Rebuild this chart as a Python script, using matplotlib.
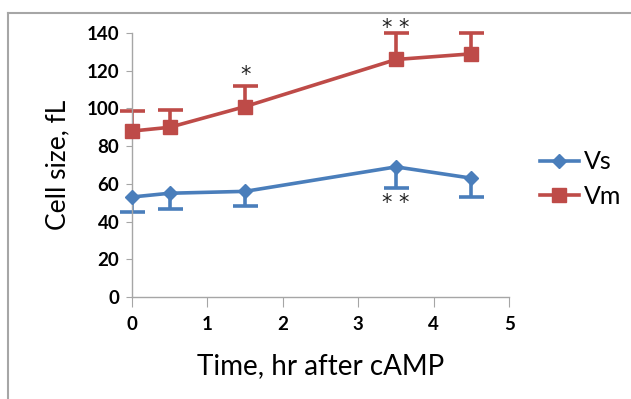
import matplotlib.pyplot as plt
from matplotlib.lines import Line2D

# time points, hr after cAMP
time_hr = [0, 0.5, 1.5, 3.5, 4.5]
vs_mean = [53, 55, 56, 69, 63]
vs_err = [8, 8.5, 8, 11, 10]        # drawn downward only
vm_mean = [88, 90, 101, 126, 129]
vm_err = [10.5, 9, 11, 14, 11]      # drawn upward only

BLUE = '#4A7EBB'
RED = '#BE4B48'
GRAY = '#A6A6A6'
LW = 2.6

plt.rcParams['font.family'] = ['Lato', 'DejaVu Sans']

fig = plt.figure(figsize=(6.31, 3.99), dpi=100)
ax = fig.add_axes([0.209, 0.256, 0.598, 0.661])


def one_sided_err(x, y, err, color, sign):
    ends = [v + sign * e for v, e in zip(y, err)]
    ax.vlines(x, y, ends, color=color, lw=LW, zorder=2)
    ax.plot(x, ends, ls='none', marker='_', ms=18, mew=LW, color=color, zorder=2, clip_on=False)


one_sided_err(time_hr, vs_mean, vs_err, BLUE, -1)
one_sided_err(time_hr, vm_mean, vm_err, RED, +1)
ax.plot(time_hr, vs_mean, color=BLUE, lw=LW, marker='D', ms=7, zorder=3, clip_on=False)
ax.plot(time_hr, vm_mean, color=RED, lw=LW, marker='s', ms=10, zorder=3, clip_on=False)

# significance marks
star = dict(ha='center', fontsize=15, color='#222222', family='DejaVu Sans')
ax.text(1.5, vm_mean[2] + vm_err[2] + 0.5, '*', va='bottom', **star)
ax.text(3.5, vm_mean[3] + vm_err[3] - 2.5, '* *', va='bottom', **star)
ax.text(3.5, vs_mean[3] - vs_err[3] - 3, '* *', va='top', **star)

ax.set_xlim(0, 5)
ax.set_ylim(0, 140)
ax.set_xticks(range(0, 6))
ax.set_yticks(range(0, 141, 20))
for s in ['top', 'right']:
    ax.spines[s].set_visible(False)
for s in ['left', 'bottom']:
    ax.spines[s].set_color(GRAY)
    ax.spines[s].set_linewidth(1)
ax.tick_params(axis='x', direction='out', length=7, color=GRAY, labelsize=13.5, pad=7)
ax.tick_params(axis='y', direction='out', length=4, color=GRAY, labelsize=13.5, pad=5)
for lab in ax.get_xticklabels() + ax.get_yticklabels():
    lab.set_fontweight('bold')

ax.set_xlabel('Time, hr after cAMP', fontsize=20, labelpad=14)
ax.set_ylabel('Cell size, fL', fontsize=19, labelpad=12)

handles = [Line2D([], [], color=BLUE, lw=LW, marker='D', ms=7),
           Line2D([], [], color=RED, lw=LW, marker='s', ms=10)]
fig.legend(handles, ['Vs', 'Vm'], loc='center left', bbox_to_anchor=(540 / 631, 1 - 179 / 399),
           frameon=False, fontsize=18, handlelength=1.55, handletextpad=0.2, labelspacing=0.45,
           borderaxespad=0, borderpad=0)

# gray frame lines at top and left of the picture
fig.add_artist(Line2D([8 / 631, 1], [1 - 13 / 399, 1 - 13 / 399], color=GRAY, lw=1.5))
fig.add_artist(Line2D([8 / 631, 8 / 631], [0, 1 - 13 / 399], color=GRAY, lw=1.5))

fig.savefig('out.png', dpi=100)
